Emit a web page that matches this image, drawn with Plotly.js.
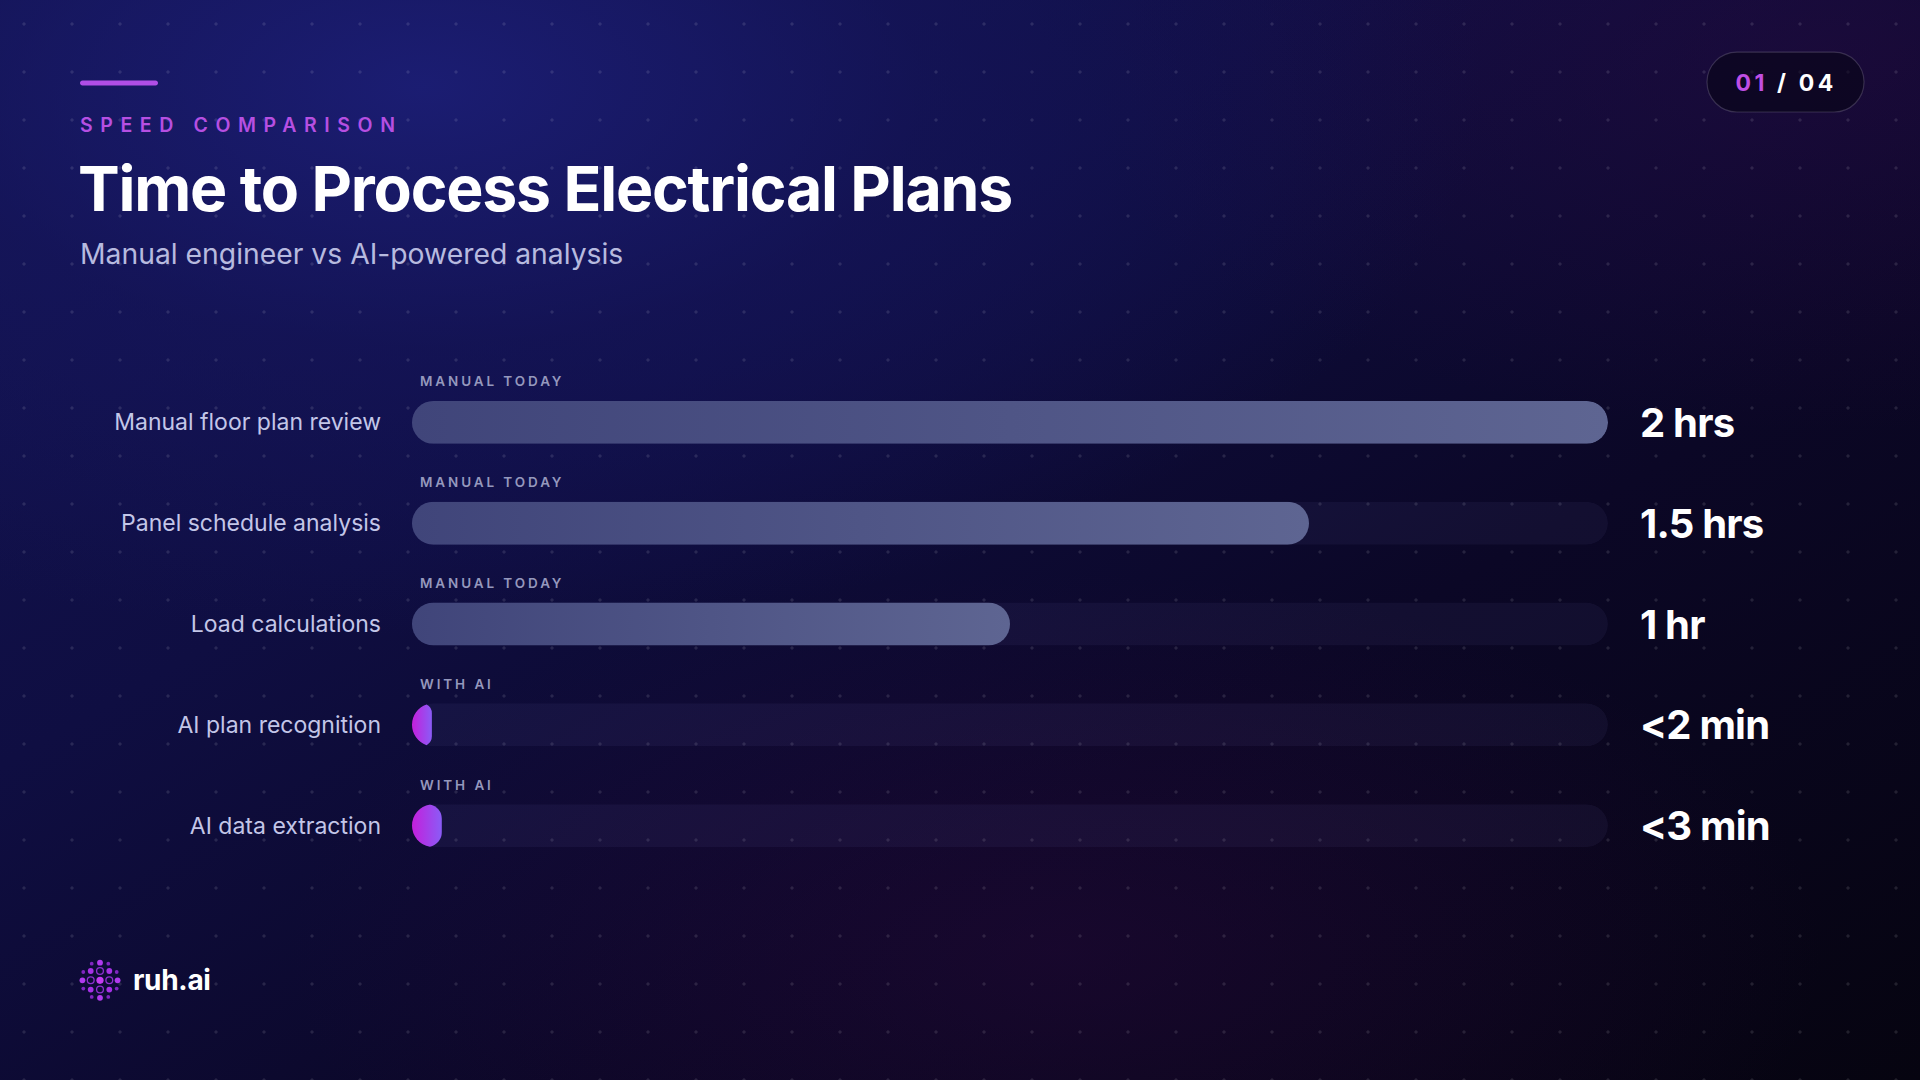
<!DOCTYPE html>
<html>
<head>
<meta charset="utf-8">
<script src="https://cdn.plot.ly/plotly-3.0.1.min.js"></script>
<style>
  html, body { margin: 0; padding: 0; width: 1920px; height: 1080px; overflow: hidden; }
  body {
    background-color: #090518;
    background-image:
      radial-gradient(circle at 50% 50%, rgba(255,255,255,0.11) 0, rgba(255,255,255,0.11) 1.3px, transparent 1.9px),
      radial-gradient(ellipse 65% 60% at 22% 8%, rgba(28,30,118,0.9) 0%, rgba(22,22,95,0.55) 40%, rgba(16,14,60,0.0) 85%),
      radial-gradient(ellipse 40% 35% at 55% 88%, rgba(55,10,70,0.30) 0%, rgba(40,8,60,0) 100%),
      radial-gradient(ellipse 40% 35% at 95% 5%, rgba(50,10,70,0.35) 0%, rgba(40,8,60,0) 100%),
      linear-gradient(150deg, #141556 0%, #0f0e42 35%, #0b0726 65%, #060410 100%);
    background-size: 48px 48px, 100% 100%, 100% 100%, 100% 100%, 100% 100%;
    background-position: 0 0, 0 0, 0 0, 0 0, 0 0;
  }
  #chart { width: 1920px; height: 1080px; }
</style>
</head>
<body>
<div id="chart"></div>
<script>
// ---------------- data ----------------
const categories = ['Manual floor plan review', 'Panel schedule analysis', 'Load calculations', 'AI plan recognition', 'AI data extraction'];
const minutes = [120, 90, 60, 2, 3];
const valueLabels = ['2 hrs', '1.5 hrs', '1 hr', '<2 min', '<3 min'];
const tags = ['MANUAL TODAY', 'MANUAL TODAY', 'MANUAL TODAY', 'WITH AI', 'WITH AI'];
const groups = ['manual', 'manual', 'manual', 'ai', 'ai'];
const scaleMax = 120;

const eyebrow = 'SPEED COMPARISON';
const titleText = 'Time to Process Electrical Plans';
const subtitleText = 'Manual engineer vs AI-powered analysis';
const pageCurrent = '01';
const pageTotal = '04';
const brand = 'ruh.ai';

// ---------------- layout helpers ----------------
const W = 1920, H = 1080;
const M = { l: 412, r: 312, t: 371.5, b: 203.5 };
const PW = W - M.l - M.r, PH = H - M.t - M.b;
const X = x => (x - M.l) / PW;
const Y = y => (H - M.b - y) / PH;
const esc = s => s.replace(/&/g, '&amp;').replace(/</g, '&lt;').replace(/>/g, '&gt;');

function pill(x0, y0, x1, y1) {
  const r = Math.min((y1 - y0) / 2, (x1 - x0) / 2), k = 0.5523 * r;
  const p = (x, y) => X(x).toFixed(5) + ',' + Y(y).toFixed(5);
  return 'M' + p(x0 + r, y0) + ' L' + p(x1 - r, y0) +
    ' C' + p(x1 - r + k, y0) + ' ' + p(x1, y0 + r - k) + ' ' + p(x1, y0 + r) +
    ' L' + p(x1, y1 - r) +
    ' C' + p(x1, y1 - r + k) + ' ' + p(x1 - r + k, y1) + ' ' + p(x1 - r, y1) +
    ' L' + p(x0 + r, y1) +
    ' C' + p(x0 + r - k, y1) + ' ' + p(x0, y1 - r + k) + ' ' + p(x0, y1 - r) +
    ' L' + p(x0, y0 + r) +
    ' C' + p(x0, y0 + r - k) + ' ' + p(x0 + r - k, y0) + ' ' + p(x0 + r, y0) + ' Z';
}
function circ(cx, cy, r, fill, line) {
  return {
    type: 'circle', xref: 'paper', yref: 'paper', layer: 'above',
    x0: X(cx - r), x1: X(cx + r), y0: Y(cy + r), y1: Y(cy - r),
    fillcolor: fill || 'rgba(0,0,0,0)',
    line: line ? { color: line, width: 1.3 } : { width: 0 }
  };
}

const FONT = 'Inter, "Noto Sans", "DejaVu Sans", sans-serif';
const barColors = { manual: '#4f5585', ai: '#a63ee6' };

// ---------------- traces ----------------
const track = {
  type: 'bar', orientation: 'h',
  y: categories, x: categories.map(() => scaleMax),
  width: 0.426,
  marker: { color: 'rgba(170,160,255,0.055)', cornerradius: '50%', line: { width: 0 } },
  hoverinfo: 'skip', showlegend: false
};
const fills = {
  type: 'bar', orientation: 'h',
  y: categories, x: minutes,
  width: 0.426,
  marker: { color: groups.map(g => barColors[g]), cornerradius: '50%', line: { width: 0 } },
  hoverinfo: 'skip', showlegend: false
};

// ---------------- annotations ----------------
const annotations = [];
const spacing = [];
function addAnn(a, ls) { annotations.push(a); spacing.push(ls || null); }

addAnn({
  xref: 'paper', yref: 'paper', x: X(80), y: Y(124), xanchor: 'left', yanchor: 'middle', align: 'left',
  text: eyebrow, showarrow: false, xshift: -2,
  font: { family: FONT, size: 19.5, color: '#b64fe2', weight: 600 }
}, '7.6px');
addAnn({
  xref: 'paper', yref: 'paper', x: X(80), y: Y(253), xanchor: 'left', yanchor: 'middle', align: 'left',
  text: subtitleText, showarrow: false, xshift: -2,
  font: { family: FONT, size: 28.3, color: '#b7badf', weight: 400 }
});
tags.forEach((t, i) => addAnn({
  xref: 'x', yref: 'y', x: 0, y: categories[i], xanchor: 'left', yanchor: 'middle', align: 'left',
  text: t, showarrow: false, xshift: 6, yshift: 41,
  font: { family: FONT, size: 13.5, color: '#9598bd', weight: 600 }
}, '2.9px'));
valueLabels.forEach((v, i) => addAnn({
  xref: 'paper', yref: 'y', x: 1, y: categories[i], xanchor: 'left', yanchor: 'middle', align: 'left',
  text: esc(v), showarrow: false, xshift: 30, yshift: 0,
  font: { family: FONT, size: 40, color: '#ffffff', weight: 700 }
}, '-0.8px'));
addAnn({
  xref: 'paper', yref: 'paper', x: X(1786), y: Y(82), xanchor: 'center', yanchor: 'middle', align: 'center',
  text: '<span style="color:#c04ee4">' + pageCurrent + '</span> / ' + pageTotal, showarrow: false,
  font: { family: FONT, size: 23, color: '#ffffff', weight: 700 }
}, '3.6px');
addAnn({
  xref: 'paper', yref: 'paper', x: X(133), y: Y(981), xanchor: 'left', yanchor: 'middle', align: 'left',
  text: brand, showarrow: false, xshift: -2,
  font: { family: FONT, size: 28, color: '#ffffff', weight: 700 }
}, '-0.3px');

// ---------------- decorative shapes ----------------
const shapes = [
  { type: 'path', xref: 'paper', yref: 'paper', path: pill(80, 79.5, 158, 84.5), fillcolor: '#b04ee6', line: { width: 0 }, layer: 'above' },
  { type: 'path', xref: 'paper', yref: 'paper', path: pill(1707, 51, 1864, 111), fillcolor: 'rgba(5,3,18,0.55)', line: { color: 'rgba(255,255,255,0.16)', width: 1.2 }, layer: 'below' }
];
// brand mark
const cx = 100, cy = 981;
shapes.push(circ(cx, cy, 3.6, '#c53cf2'));
[[0, -9.3], [9.3, 0], [0, 9.3], [-9.3, 0]].forEach(([dx, dy]) => shapes.push(circ(cx + dx, cy + dy, 3.4, null, '#8d2fd0')));
[[-9.3, -9.3], [9.3, -9.3], [-9.3, 9.3], [9.3, 9.3]].forEach(([dx, dy]) => shapes.push(circ(cx + dx, cy + dy, 2.9, '#a631e6')));
[[0, -17.6], [17.6, 0], [0, 17.6], [-17.6, 0]].forEach(([dx, dy]) => shapes.push(circ(cx + dx, cy + dy, 2.9, '#b03aee')));
[[-8.3, -16.7], [8.3, -16.7], [-16.7, -8.3], [16.7, -8.3], [-16.7, 8.3], [16.7, 8.3], [-8.3, 16.7], [8.3, 16.7]].forEach(([dx, dy]) => shapes.push(circ(cx + dx, cy + dy, 1.9, '#7f25c0')));

const layout = {
  width: W, height: H,
  margin: M,
  paper_bgcolor: 'rgba(0,0,0,0)', plot_bgcolor: 'rgba(0,0,0,0)',
  barmode: 'overlay',
  showlegend: false,
  hovermode: false,
  title: {
    text: titleText, xref: 'container', yref: 'container',
    x: 78 / W, y: 1 - 189 / H, xanchor: 'left', yanchor: 'middle',
    font: { family: FONT, size: 62.5, color: '#ffffff', weight: 700 }
  },
  xaxis: { range: [0, scaleMax], visible: false, fixedrange: true },
  yaxis: {
    type: 'category', range: [categories.length - 0.5, -0.5],
    showgrid: false, zeroline: false, showline: false, ticks: '',
    ticklabelstandoff: 30,
    tickfont: { family: FONT, size: 23, color: '#c3c6e8', weight: 400 },
    fixedrange: true
  },
  annotations: annotations,
  shapes: shapes
};

Plotly.newPlot('chart', [track, fills], layout, { staticPlot: true, displayModeBar: false }).then(gd => {
  // letter spacing for text that uses it
  gd.querySelectorAll('.annotation').forEach(g => {
    const i = +g.getAttribute('data-index');
    const t = g.querySelector('text');
    if (t && spacing[i]) t.style.letterSpacing = spacing[i];
  });
  const tt = gd.querySelector('.gtitle');
  if (tt) tt.style.letterSpacing = '-1.2px';

  const svg = gd.querySelector('.main-svg');
  const NS = 'http://www.w3.org/2000/svg';
  let defs = svg.querySelector('defs');
  if (!defs) { defs = document.createElementNS(NS, 'defs'); svg.insertBefore(defs, svg.firstChild); }

  // gradient fills for bars
  function grad(id, c0, c1) {
    const lg = document.createElementNS(NS, 'linearGradient');
    lg.setAttribute('id', id); lg.setAttribute('x1', '0'); lg.setAttribute('x2', '1'); lg.setAttribute('y1', '0'); lg.setAttribute('y2', '0');
    [[0, c0], [1, c1]].forEach(([o, c]) => {
      const s = document.createElementNS(NS, 'stop');
      s.setAttribute('offset', o); s.setAttribute('stop-color', c);
      lg.appendChild(s);
    });
    defs.appendChild(lg);
  }
  grad('g-manual', '#40457a', '#5e6592');
  grad('g-ai', '#c41fdc', '#8a5cf6');

  // round both ends: clip each bar to the pill of its own track (like overflow:hidden)
  function pillClip(id, bb, parentId) {
    const cp = document.createElementNS(NS, 'clipPath');
    cp.setAttribute('id', id);
    cp.setAttribute('clipPathUnits', 'userSpaceOnUse');
    if (parentId) cp.setAttribute('clip-path', 'url(#' + parentId + ')');
    const r = document.createElementNS(NS, 'rect');
    const rad = Math.min(bb.height / 2, bb.width / 2);
    r.setAttribute('x', bb.x); r.setAttribute('y', bb.y);
    r.setAttribute('width', bb.width); r.setAttribute('height', bb.height);
    r.setAttribute('rx', rad); r.setAttribute('ry', rad);
    cp.appendChild(r);
    defs.appendChild(cp);
  }
  const traces = gd.querySelectorAll('.barlayer .trace');
  const trackPaths = traces[0] ? traces[0].querySelectorAll('.point path') : [];
  const fillPaths = traces[1] ? traces[1].querySelectorAll('.point path') : [];
  trackPaths.forEach((p, i) => {
    const bb = p.getBBox();
    pillClip('clip-track-' + i, bb);
    p.setAttribute('clip-path', 'url(#clip-track-' + i + ')');
  });
  fillPaths.forEach((p, i) => {
    p.style.fill = 'url(#g-' + groups[i] + ')';
    const bb = p.getBBox();
    pillClip('clip-fill-' + i, bb, 'clip-track-' + i);
    p.setAttribute('clip-path', 'url(#clip-fill-' + i + ')');
  });
});
</script>
</body>
</html>
